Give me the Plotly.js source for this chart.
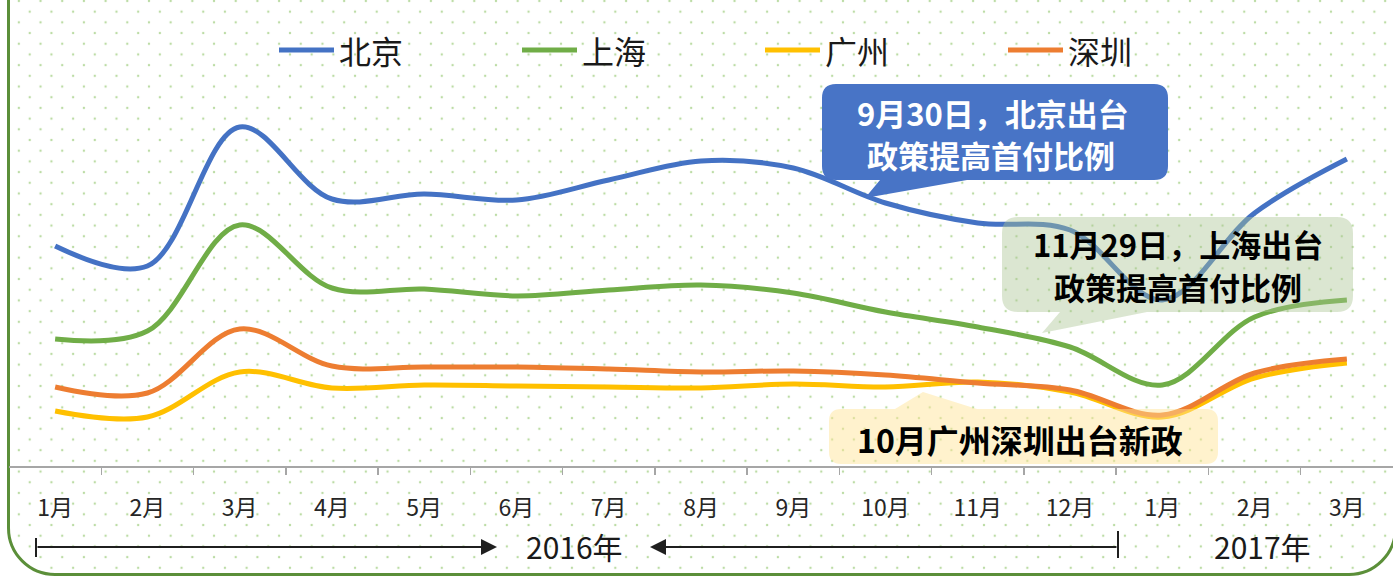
<!DOCTYPE html>
<html>
<head>
<meta charset="utf-8">
<script src="https://cdn.plot.ly/plotly-3.0.1.min.js"></script>
<style>
  html, body { margin:0; padding:0; background:#ffffff; width:1393px; height:577px; overflow:hidden; }
  #frame {
    position:absolute; left:7px; top:-120px; width:1390px; height:696px;
    box-sizing:border-box; border:3px solid #5b8f39; border-radius:48px;
    background-color:#ffffff;
    background-image:
      radial-gradient(circle at center, #bcdca5 1.1px, rgba(255,255,255,0) 1.6px),
      radial-gradient(circle at center, #bcdca5 1.1px, rgba(255,255,255,0) 1.6px);
    background-size:21.7px 21.4px, 21.7px 21.4px;
    background-position:-12.8px -10.4px, -2px 0.3px;
  }
  #chart { position:absolute; left:0; top:0; width:1393px; height:577px; }
</style>
</head>
<body>
<div id="frame"></div>
<div id="chart"></div>
<script>
// ---- data ----
const months = ['1月','2月','3月','4月','5月','6月','7月','8月','9月','10月','11月','12月','1月','2月','3月'];
const cities = ['北京','上海','广州','深圳'];
const beijing   = [22.0, 20.0, 33.9, 26.7, 27.2, 26.6, 28.6, 30.5, 29.8, 26.3, 24.3, 23.6, 16.6, 25.3, 30.7];
const shanghai  = [12.7, 13.5, 24.1, 17.8, 17.7, 17.0, 17.6, 18.1, 17.3, 15.4, 13.9, 11.9, 8.1, 14.9, 16.6];
const guangzhou = [5.5, 4.9, 9.4, 7.8, 8.1, 8.0, 7.9, 7.8, 8.2, 7.9, 8.4, 7.4, 4.9, 8.8, 10.3];
const shenzhen  = [7.9, 7.3, 13.7, 10.0, 9.9, 9.9, 9.7, 9.4, 9.5, 9.1, 8.3, 7.6, 5.1, 9.3, 10.7];
const years = ['2016年','2017年'];
const noteBeijing  = ['9月30日，北京出台', '政策提高首付比例'];
const noteShanghai = ['11月29日，上海出台', '政策提高首付比例'];
const noteGZSZ     = '10月广州深圳出台新政';

// ---- layout geometry ----
const W = 1393, H = 577;
const M = {l:9, r:0, t:86, b:111};
const PW = W - M.l - M.r, PH = H - M.t - M.b;
const px = x => (x - M.l) / PW;
const py = y => (H - M.b - y) / PH;

const colors = {'北京':'#4472c4','上海':'#70ad47','广州':'#ffc000','深圳':'#ed7d31'};
const FONT = '"Noto Sans CJK SC", "Microsoft YaHei", sans-serif';
const xs = months.map((m, i) => i);

function trace(name, vals) {
  return {x: xs, y: vals, name: name, type:'scatter', mode:'lines',
    line:{color: colors[name], width:5, shape:'spline', smoothing:1.0},
    hoverinfo:'skip', showlegend:false};
}
const data = [
  trace('北京', beijing),
  trace('上海', shanghai),
  trace('广州', guangzhou),
  trace('深圳', shenzhen)
];

function f(v){ return v.toFixed(5); }
function callout(x0, y0, x1, y1, r, side, tail) {
  const P = (x, y) => f(px(x)) + ',' + f(py(y));
  let d = 'M' + P(x0 + r, y0);
  if (side === 'top') { d += ' L' + P(tail[0][0], y0) + ' L' + P(tail[1][0], tail[1][1]) + ' L' + P(tail[2][0], y0); }
  d += ' L' + P(x1 - r, y0) + ' Q' + P(x1, y0) + ' ' + P(x1, y0 + r);
  d += ' L' + P(x1, y1 - r) + ' Q' + P(x1, y1) + ' ' + P(x1 - r, y1);
  if (side === 'bottom') { d += ' L' + P(tail[2][0], y1) + ' L' + P(tail[1][0], tail[1][1]) + ' L' + P(tail[0][0], y1); }
  d += ' L' + P(x0 + r, y1) + ' Q' + P(x0, y1) + ' ' + P(x0, y1 - r);
  d += ' L' + P(x0, y0 + r) + ' Q' + P(x0, y0) + ' ' + P(x0 + r, y0) + ' Z';
  return d;
}
function label(x, y, text, size, color, bold, anchor) {
  return {xref:'paper', yref:'paper', x:px(x), y:py(y), xanchor:anchor || 'center', yanchor:'middle',
    text: bold ? '<b>' + text + '</b>' : text, showarrow:false, borderpad:0,
    font:{family:FONT, size:size, color:color}};
}

const shapes = [];
const annotations = [];

// legend (manual)
const legendX = [279, 522, 765, 1008];
cities.forEach((c, i) => {
  shapes.push({type:'line', xref:'paper', yref:'paper', x0:px(legendX[i]), x1:px(legendX[i] + 55),
    y0:py(50), y1:py(50), line:{color:colors[c], width:5}});
  annotations.push(label(legendX[i] + 59, 50, c, 32, '#1a1a1a', false, 'left'));
});

// callouts
shapes.push({type:'path', xref:'paper', yref:'paper', layer:'above',
  path: callout(822, 84, 1168, 180, 14, 'bottom', [[880,180],[865,198],[967,180]]),
  fillcolor:'#4874c6', line:{width:0}});
annotations.push(label(993, 112, noteBeijing[0], 31, '#ffffff', true));
annotations.push(label(991, 154, noteBeijing[1], 31, '#ffffff', true));

shapes.push({type:'path', xref:'paper', yref:'paper', layer:'above',
  path: callout(1002, 217, 1353, 312, 16, 'bottom', [[1060,312],[1042,333],[1147,312]]),
  fillcolor:'rgba(169,196,145,0.42)', line:{width:0}});
annotations.push(label(1178, 244, noteShanghai[0], 31, '#000000', true));
annotations.push(label(1178, 286, noteShanghai[1], 31, '#000000', true));

shapes.push({type:'path', xref:'paper', yref:'paper', layer:'above',
  path: callout(829, 409, 1218, 464, 12, 'top', [[895,409],[923,392],[977,409]]),
  fillcolor:'rgba(255,228,150,0.48)', line:{width:0}});
annotations.push(label(1020, 439, noteGZSZ, 32, '#000000', true));

// year span arrows
shapes.push({type:'line', xref:'paper', yref:'paper', x0:px(36), x1:px(36), y0:py(538), y1:py(557), line:{color:'#1f1f1f', width:2}});
shapes.push({type:'line', xref:'paper', yref:'paper', x0:px(1118), x1:px(1118), y0:py(531), y1:py(558), line:{color:'#1f1f1f', width:2}});
annotations.push({xref:'paper', yref:'paper', x:px(497), y:py(547), ax:-461, ay:0, text:'', showarrow:true,
  arrowhead:2, arrowsize:1.6, arrowwidth:2, arrowcolor:'#1f1f1f', standoff:0});
annotations.push({xref:'paper', yref:'paper', x:px(650), y:py(547), ax:468, ay:0, text:'', showarrow:true,
  arrowhead:2, arrowsize:1.6, arrowwidth:2, arrowcolor:'#1f1f1f', standoff:0});
annotations.push(label(574, 546, years[0], 30, '#1a1a1a', false));
annotations.push(label(1262, 546, years[1], 30, '#1a1a1a', false));

const boundaries = xs.slice(0, -1).map(i => i + 0.5);

const layout = {
  width:W, height:H,
  margin:{l:M.l, r:M.r, t:M.t, b:M.b, pad:0},
  paper_bgcolor:'rgba(0,0,0,0)', plot_bgcolor:'rgba(0,0,0,0)',
  showlegend:false,
  xaxis:{range:[-0.5, 14.5], tickmode:'array', tickvals:xs, ticktext:months,
    ticks:'', showgrid:false, zeroline:false, showline:true, linecolor:'#a6a6a6', linewidth:1.5,
    ticklabelstandoff:21,
    tickfont:{family:FONT, size:23, color:'#262626'},
    minor:{tickmode:'array', tickvals:boundaries, ticks:'outside', ticklen:7, tickwidth:1.5, tickcolor:'#a6a6a6', showgrid:false},
    fixedrange:true},
  yaxis:{range:[0, 38], visible:false, showgrid:false, zeroline:false, fixedrange:true},
  shapes:shapes,
  annotations:annotations
};

Plotly.newPlot('chart', data, layout, {displayModeBar:false, staticPlot:true});
</script>
</body>
</html>
